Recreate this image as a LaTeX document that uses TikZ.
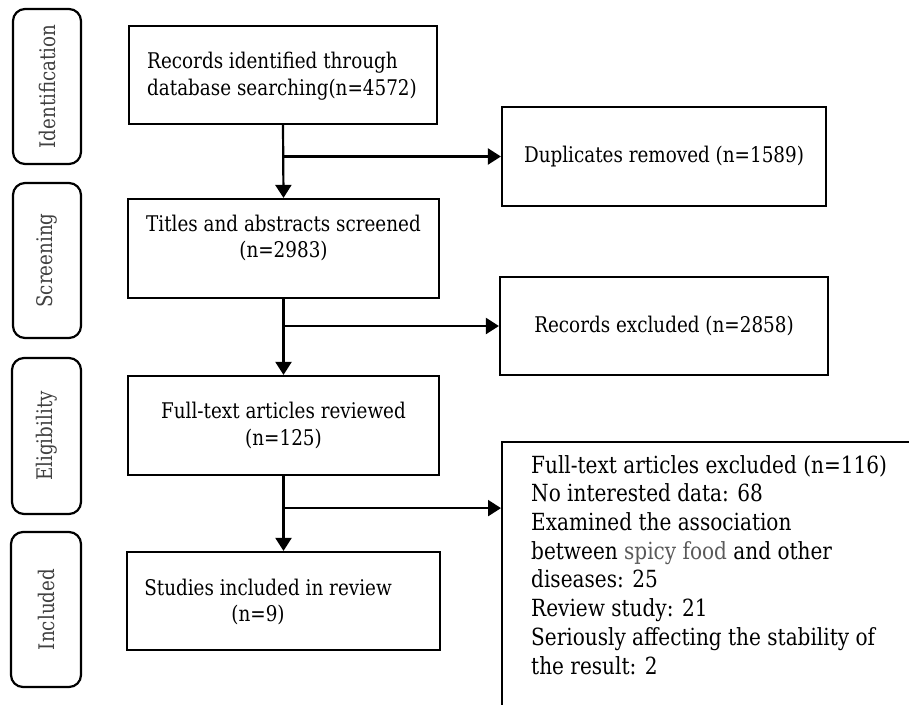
\documentclass[tikz,border=0pt]{standalone}
\usepackage{fontspec}
\setmainfont{DejaVu Serif}[FakeStretch=0.85]
\usetikzlibrary{arrows.meta}
\begin{document}
\begin{tikzpicture}[x=1pt,y=-1pt,
  stage/.style={draw, line width=2.2pt, rounded corners=12pt, rotate=90, inner sep=0pt,
                text=black!75, font=\fontsize{21.5}{25}\selectfont},
  box/.style={draw, line width=2.2pt, inner sep=0pt},
  boxtext/.style={font=\fontsize{21.6}{26.7}\selectfont, inner sep=0pt},
  flow/.style={line width=2.2pt, -{Triangle[length=13pt,width=16pt]}}]
\useasboundingbox (0,0) rectangle (909,704);

% stage labels
\node[stage, minimum width=155pt, minimum height=68pt] (s1) at (47,86.5) {Identification};
\node[stage, minimum width=155pt, minimum height=68pt] (s2) at (47,260.5) {Screening};
\node[stage, minimum width=156pt, minimum height=69pt] (s3) at (46.5,436) {Eligibility};
\node[stage, minimum width=155pt, minimum height=70pt] (s4) at (46,609.5) {Included};

% main column
\node[box, minimum width=308pt, minimum height=98pt] (b1) at (283,75) {};
\node[boxtext, align=left, anchor=west] (b1t) at (147,76) {Records identified through\\database searching(n=4572)};
\node[box, minimum width=311pt, minimum height=99pt] (b2) at (283.5,248.5) {};
\node[boxtext, align=center] (b2t) at (283.5,238) {Titles and abstracts screened\\(n=2983)};
\node[box, boxtext, align=center, minimum width=311pt, minimum height=99pt] (b3) at (283.5,425.5)
  {Full-text articles reviewed\\(n=125)};
\node[box, minimum width=313pt, minimum height=98pt] (b4) at (283.5,601) {};
\node[boxtext, align=center] (b4t) at (268,602) {Studies included in review\\\hspace*{-20pt}(n=9)};

% right column
\node[box, boxtext, minimum width=324pt, minimum height=99pt] (r1) at (664,156.5) {Duplicates removed (n=1589)};
\node[box, boxtext, minimum width=328pt, minimum height=98pt] (r2) at (664,326) {Records excluded (n=2858)};
\begin{scope}
\clip (0,0) rectangle (909,704);
\node[box, anchor=north west, minimum width=460pt, minimum height=320pt] (r3) at (501,441) {};
\end{scope}
\node[inner sep=0pt, anchor=north west, align=left, font=\fontsize{23.6}{28.7}\selectfont] (r3t) at (531,455)
  {Full-text articles excluded (n=116)\\
   No interested data: 68\\
   Examined the association\\
   between \textcolor{black!65}{spicy food} and other\\
   diseases: 25\\
   Review study: 21\\
   Seriously affecting the stability of\\
   the result: 2};

% connectors
\draw[flow] (b1.south) -- (b2.north);
\coordinate (j1) at (b1.south |- r1.west);
\draw[flow] (j1) -- (r1.west);
\draw[flow] (b2.south) -- (b3.north);
\coordinate (j2) at (b2.south |- r2.west);
\draw[flow] (j2) -- (r2.west);
\draw[flow] (b3.south) -- (b4.north);
\coordinate (j3) at ([yshift=-32pt]b3.south);
\draw[flow] (j3) -- (r3.west |- j3);
\end{tikzpicture}
\end{document}
